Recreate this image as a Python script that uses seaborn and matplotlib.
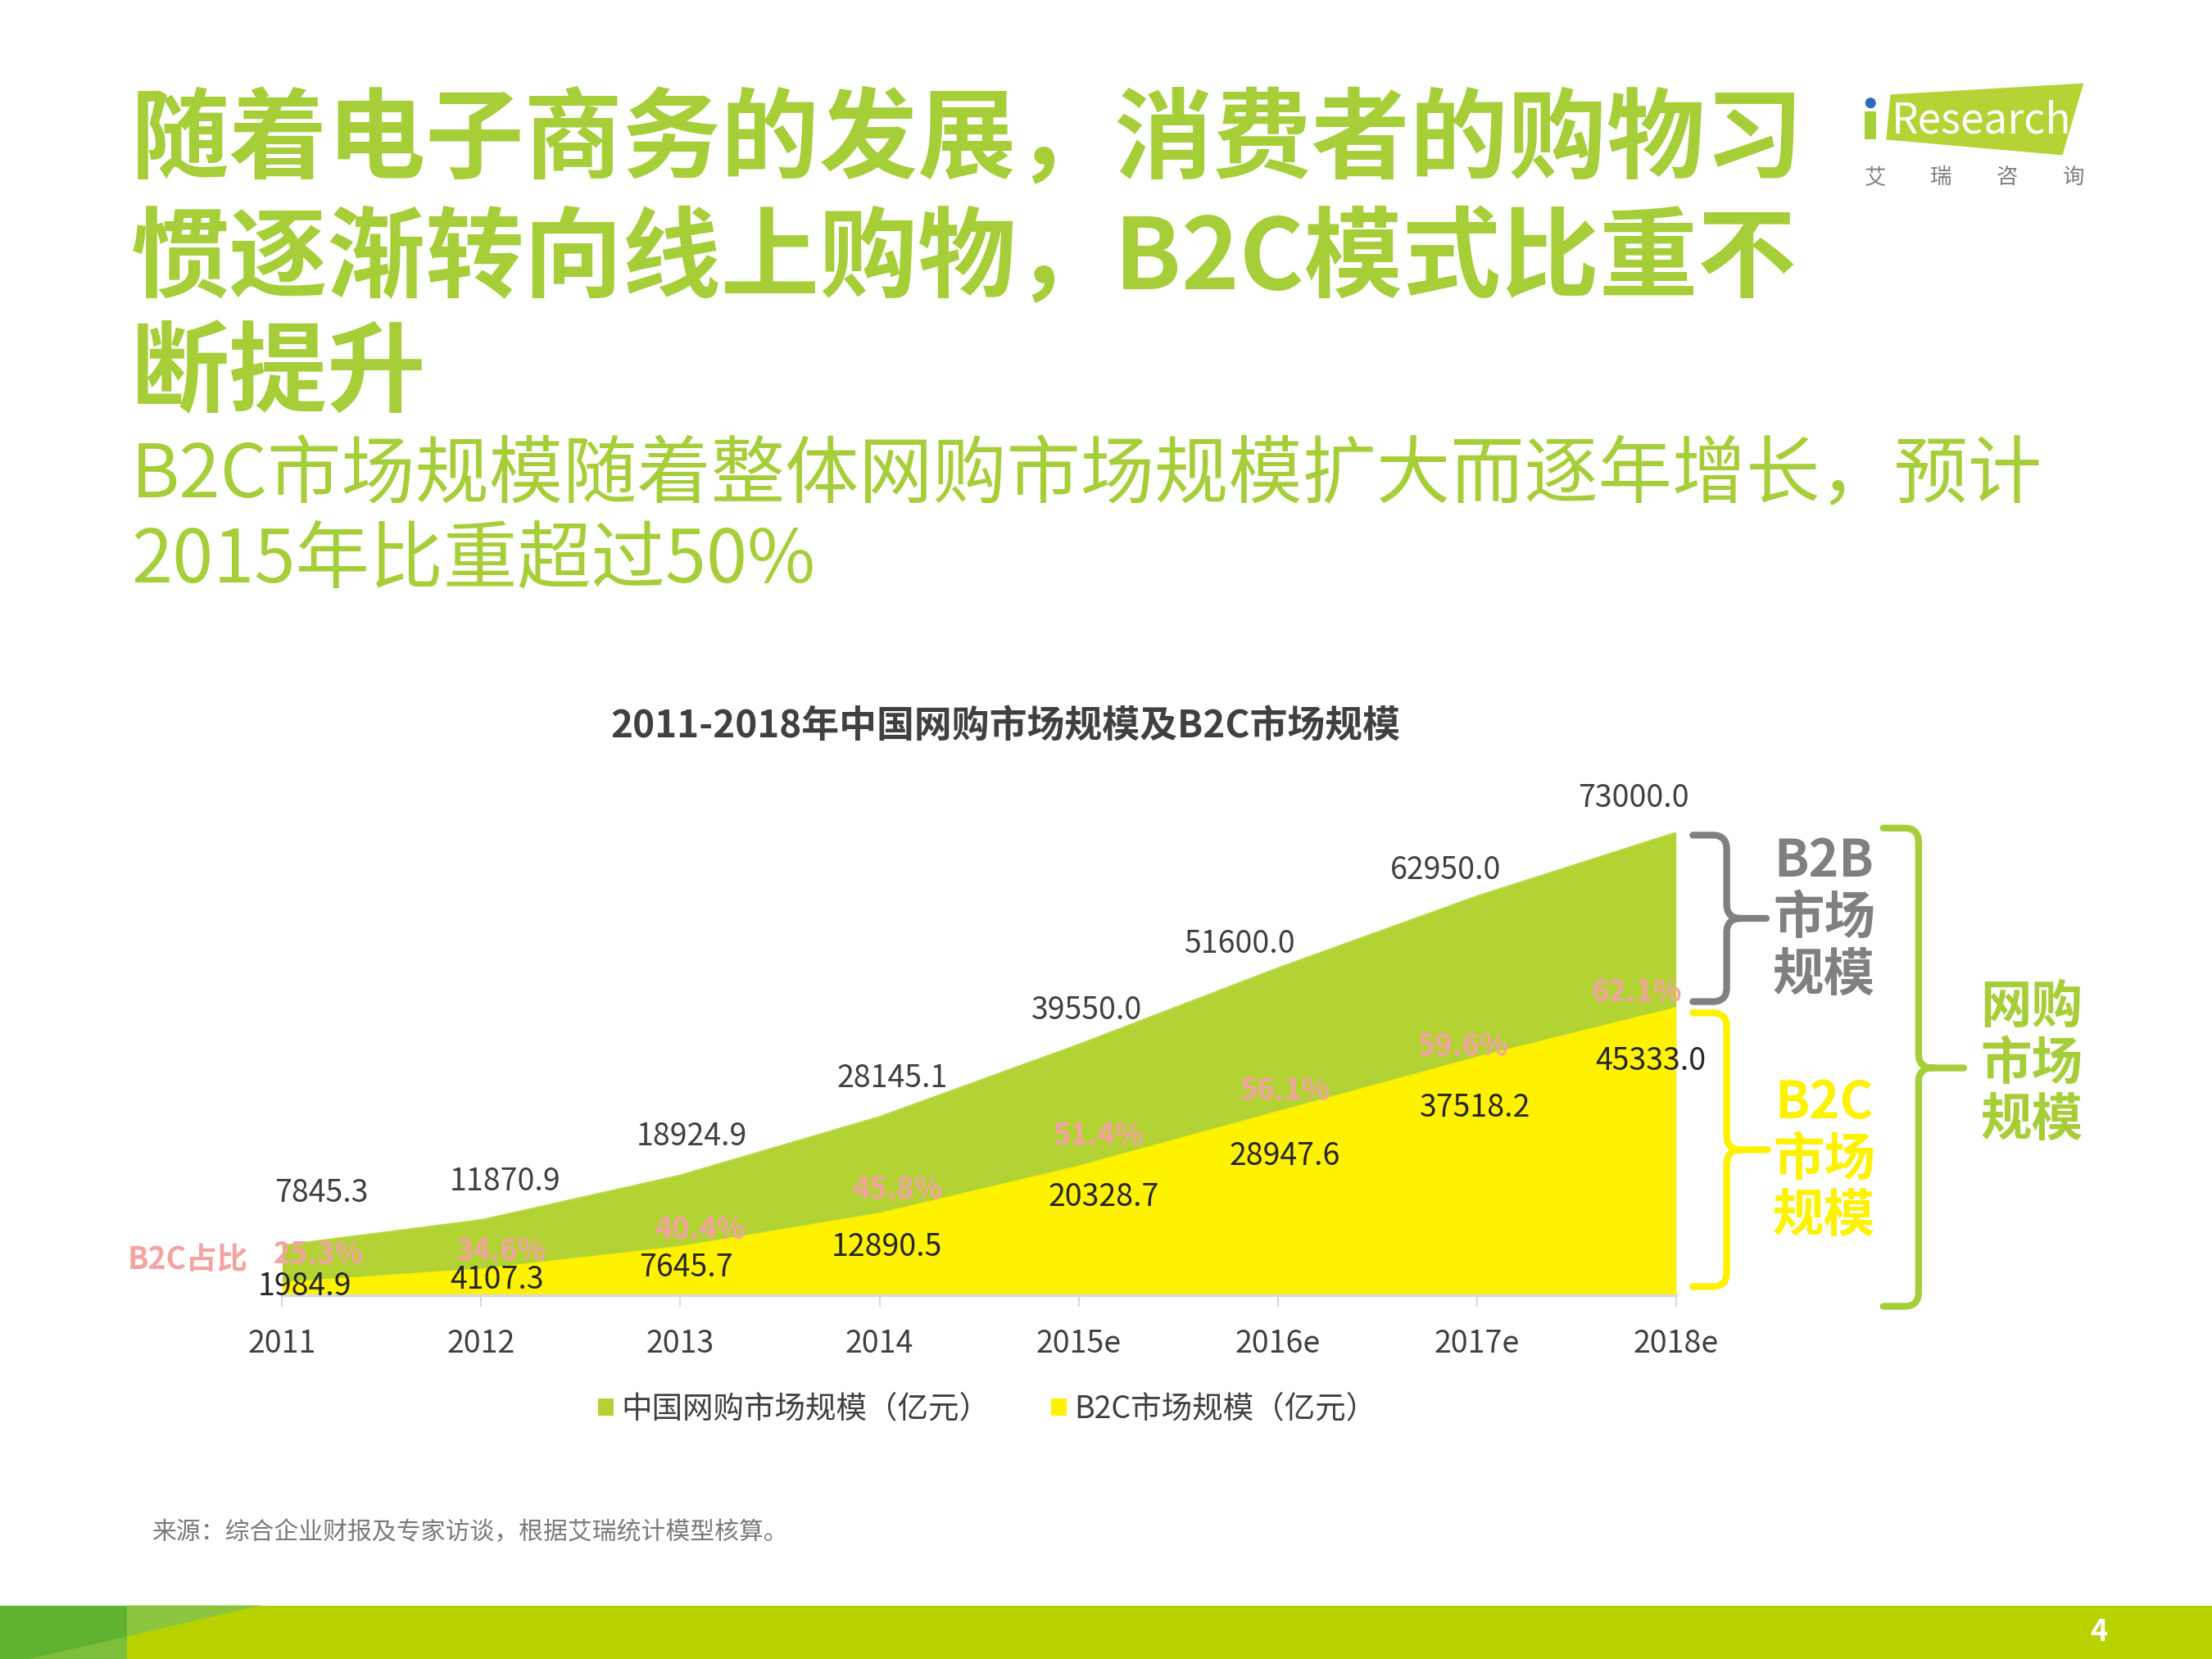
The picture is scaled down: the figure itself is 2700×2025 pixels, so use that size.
import matplotlib
matplotlib.use("Agg")
import matplotlib.pyplot as plt
import seaborn as sns
from matplotlib.path import Path
from matplotlib.patches import PathPatch, Polygon, Rectangle, Circle, Patch

# ---------------- data ----------------
years = ["2011", "2012", "2013", "2014", "2015e", "2016e", "2017e", "2018e"]
total_market = [7845.3, 11870.9, 18924.9, 28145.1, 39550.0, 51600.0, 62950.0, 73000.0]
b2c_market = [1984.9, 4107.3, 7645.7, 12890.5, 20328.7, 28947.6, 37518.2, 45333.0]
b2c_share = ["25.3%", "34.6%", "40.4%", "45.8%", "51.4%", "56.1%", "59.6%", "62.1%"]
legend_labels = ["中国网购市场规模（亿元）", "B2C市场规模（亿元）"]

# ---------------- styles ----------------
GREEN = "#B3D334"
YELLOW = "#FFF200"
TITLE_GREEN = "#A6CE39"
PINK = "#F4A3A3"
DARK = "#404040"
GRAY = "#7F7F7F"

# label offsets (reference pixels: dx right, dy down)
total_off = [(28, -37), (17, -27), (8, -27), (9, -27), (6, -24), (-27, -17), (-22, -18), (-30, -24)]
b2c_off = [(16, 3), (11, 8), (4, 15), (5, 24), (18, 22), (5, 32), (-1, 36), (-18, 38)]
pct_off = [(26, -20), (14, -13), (14, -12), (13, -17), (14, -22), (5, -15), (-10, -8), (-28, -11)]

sns.set_theme(style="white")
plt.rcParams["font.family"] = ["Noto Sans CJK SC", "DejaVu Sans"]

W, H = 1568, 1176
fig = plt.figure(figsize=(27, 20.25), dpi=100)
fig.patch.set_facecolor("white")
PX = 2700 / W * 0.72  # reference px -> points

# background/decoration axes in reference pixel coords
bg = fig.add_axes([0, 0, 1, 1], zorder=0)
bg.set_xlim(0, W)
bg.set_ylim(H, 0)
bg.axis("off")

# titles
title_lines = ["随着电子商务的发展，消费者的购物习", "惯逐渐转向线上购物，B2C模式比重不", "断提升"]
for line, y in zip(title_lines, [100, 185, 266]):
    bg.text(93, y, line, fontsize=86.5, fontweight="bold", color=TITLE_GREEN, ha="left", va="center")
sub_lines = ["B2C市场规模随着整体网购市场规模扩大而逐年增长，预计", "2015年比重超过50%"]
for line, y in zip(sub_lines, [338, 398]):
    bg.text(93, y, line, fontsize=65, color=TITLE_GREEN, ha="left", va="center")

bg.text(713, 515, "2011-2018年中国网购市场规模及B2C市场规模", fontsize=33, fontweight="bold",
        color=DARK, ha="center", va="center")

# logo
bg.add_patch(Polygon([(1340, 67), (1477, 59), (1462, 110), (1337, 99)], closed=True, color="#B5D334", lw=0))
bg.add_patch(Rectangle((1322, 79), 8, 20, color="#A6CE39", lw=0))
bg.add_patch(Circle((1326, 73), 3.8, color="#2C6DB5", lw=0))
bg.text(1341, 86, "Research", fontsize=37, color="white", ha="left", va="center")
for ch, x in zip("艾瑞咨询", [1329, 1376, 1423, 1470]):
    bg.text(x, 126, ch, fontsize=19, color=GRAY, ha="center", va="center")

# source
bg.text(108, 1087, "来源：综合企业财报及专家访谈，根据艾瑞统计模型核算。", fontsize=21.5, color="#7A7A7A",
        ha="left", va="center")

# bottom bar
bg.add_patch(Rectangle((0, 1138), W, 38, color="#B8D200", lw=0))
bg.add_patch(Rectangle((0, 1138), 90, 38, color="#5FB130", lw=0))
bg.add_patch(Polygon([(90, 1138), (185, 1138), (90, 1160)], closed=True, color="#8CC63F", lw=0))
bg.add_patch(Polygon([(90, 1160), (20, 1176), (90, 1176)], closed=True, color="#7DBE3A", lw=0))
bg.text(1488, 1157, "4", fontsize=26, fontweight="bold", color="white", ha="center", va="center")


def brace(ax, x_left, x_vert, x_tip, y_top, y_bot, y_mid, color, r=10, lw=6):
    verts = [
        (x_left, y_top), (x_vert - r, y_top), (x_vert, y_top), (x_vert, y_top + r),
        (x_vert, y_mid - r), (x_vert, y_mid), (x_vert + r, y_mid), (x_tip, y_mid),
        (x_vert + r, y_mid), (x_vert, y_mid), (x_vert, y_mid + r),
        (x_vert, y_bot - r), (x_vert, y_bot), (x_vert - r, y_bot), (x_left, y_bot),
    ]
    codes = [
        Path.MOVETO, Path.LINETO, Path.CURVE3, Path.CURVE3,
        Path.LINETO, Path.CURVE3, Path.CURVE3, Path.LINETO,
        Path.MOVETO, Path.CURVE3, Path.CURVE3,
        Path.LINETO, Path.CURVE3, Path.CURVE3, Path.LINETO,
    ]
    ax.add_patch(PathPatch(Path(verts, codes), fill=False, edgecolor=color, lw=lw,
                           capstyle="round", joinstyle="round"))


brace(bg, 1200, 1224, 1252, 592, 710, 651, "#808080")
brace(bg, 1200, 1224, 1253, 718, 912, 815, YELLOW)
brace(bg, 1335, 1360, 1392, 587, 926, 757, "#A6CE39")

bg.text(1293, 651, "B2B\n市场\n规模", fontsize=45, fontweight="bold", color="#808080",
        ha="center", va="center", linespacing=1.12)
bg.text(1293, 822, "B2C\n市场\n规模", fontsize=45, fontweight="bold", color=YELLOW,
        ha="center", va="center", linespacing=1.12)
bg.text(1440, 754, "网购\n市场\n规模", fontsize=45, fontweight="bold", color="#A6CE39",
        ha="center", va="center", linespacing=1.12)
bg.text(133, 893, "B2C占比", fontsize=27, fontweight="bold", color=PINK, ha="center", va="center")

# ---------------- chart ----------------
ax = fig.add_axes([200 / W, 1 - 918 / H, 988 / W, 328 / H], zorder=2)
ax.set_facecolor("none")
xs = list(range(len(years)))
ax.fill_between(xs, 0, total_market, color=GREEN, lw=0)
ax.fill_between(xs, 0, b2c_market, color=YELLOW, lw=0)
sns.lineplot(x=xs, y=total_market, color=GREEN, lw=1, ax=ax)
sns.lineplot(x=xs, y=b2c_market, color=YELLOW, lw=1, ax=ax)
ax.set_xlim(0, len(years) - 1)
ax.set_ylim(0, 73000)
ax.set_xticks(xs)
ax.set_xticklabels(years, fontsize=27, color=DARK)
ax.set_yticks([])
ax.tick_params(axis="x", length=10, width=1.5, color="#D9D9D9", pad=19, bottom=True)
for s in ["top", "right", "left"]:
    ax.spines[s].set_visible(False)
ax.spines["bottom"].set_color("#D9D9D9")
ax.spines["bottom"].set_linewidth(2.5)
ax.set_xlabel("")
ax.set_ylabel("")

for i, (t, b, p) in enumerate(zip(total_market, b2c_market, b2c_share)):
    dx, dy = total_off[i]
    ax.annotate(f"{t:.1f}", (i, t), xytext=(dx * PX, -dy * PX), textcoords="offset points",
                ha="center", va="center", fontsize=27, color=DARK, annotation_clip=False)
    dx, dy = b2c_off[i]
    ax.annotate(f"{b:.1f}", (i, b), xytext=(dx * PX, -dy * PX), textcoords="offset points",
                ha="center", va="center", fontsize=27, color="#262626", annotation_clip=False, zorder=5)
    dx, dy = pct_off[i]
    ax.annotate(p, (i, b), xytext=(dx * PX, -dy * PX), textcoords="offset points",
                ha="center", va="center", fontsize=26, fontweight="bold", color=PINK,
                annotation_clip=False, zorder=5)

handles = [Patch(facecolor=GREEN, edgecolor="none"), Patch(facecolor=YELLOW, edgecolor="none")]
fig.legend(handles, legend_labels, loc="center", bbox_to_anchor=(700 / W, 1 - 999 / H), ncol=2,
           frameon=False, fontsize=27, handlelength=0.5, handleheight=0.5, handletextpad=0.25,
           columnspacing=2.0, labelcolor=DARK)

fig.savefig("out.png", dpi=100, facecolor="white")
